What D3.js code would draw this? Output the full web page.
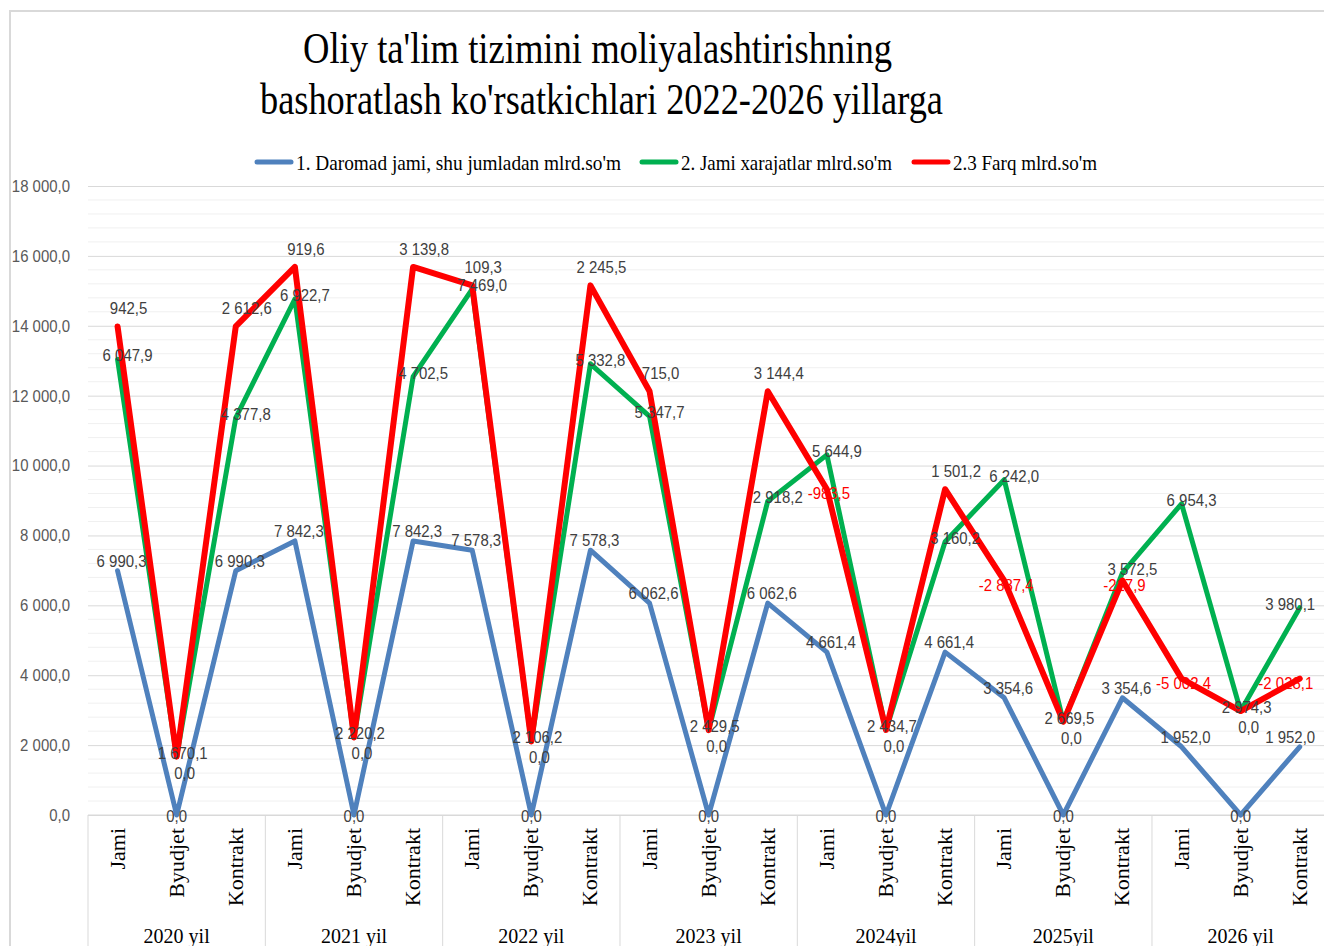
<!DOCTYPE html>
<html>
<head>
<meta charset="utf-8">
<script src="https://cdn.jsdelivr.net/npm/d3@7"></script>
<style>
  body { margin: 0; background: #fff; }
  svg { display: block; }
</style>
</head>
<body>
<svg id="chart" width="1324" height="946"></svg>
<script>

var years = ["2020 yil", "2021 yil", "2022 yil", "2023 yil", "2024yil", "2025yil", "2026 yil"];
var parts = ["Jami", "Byudjet", "Kontrakt"];

// 1. Daromad jami
var daromad = [6990.3, 0.0, 6990.3, 7842.3, 0.0, 7842.3, 7578.3, 0.0, 7578.3,
  6062.6, 0.0, 6062.6, 4661.4, 0.0, 4661.4, 3354.6, 0.0, 3354.6, 1952.0, 0.0, 1952.0];
// 2. Jami xarajatlar
var xarajat = [6047.9, 1670.1, 4377.8, 6922.7, 2220.2, 4702.5, 7469.0, 2106.2, 5332.8,
  5347.7, 2429.5, 2918.2, 5644.9, 2434.7, 3160.2, 6242.0, 2669.5, 3572.5, 6954.3, 2974.3, 3980.1];
// 2.3 Farq
var farq = [942.5, 0.0, 2612.6, 919.6, 0.0, 3139.8, 109.3, 0.0, 2245.5,
  715.0, 0.0, 3144.4, -983.5, 0.0, 1501.2, -2887.4, 0.0, -217.9, -5002.4, 0.0, -2028.1];

var seriesNames = ["1. Daromad jami, shu jumladan  mlrd.so'm", "2. Jami xarajatlar mlrd.so'm", "2.3 Farq mlrd.so'm"];
var yTicks = d3.range(0, 18001, 2000);

InitChart();

function InitChart() {

  var viz = d3.select("#chart"),
    MARGINS = { top: 186, bottom: 815, left: 88 },
    step = 59.11,
    colors = ["#4f81bd", "#00b050", "#ff0000"],
    widths = [5, 5, 6],
    narrow = 0.88,
    labelFont = "'Liberation Sans', Arial, sans-serif",
    serif = "'Liberation Serif', 'Times New Roman', serif";

  var cats = [];
  years.forEach(function(yr, g) {
    parts.forEach(function(p, k) { cats.push({ year: yr, part: p, g: g, i: g * 3 + k }); });
  });

  var rows = cats.map(function(c) {
    return { d: daromad[c.i], x: xarajat[c.i], f: farq[c.i] };
  });
  var stacked = d3.stack().keys(["d", "x", "f"]).offset(d3.stackOffsetNone)(rows);
  var raw = [daromad, xarajat, farq];

  var xRange = d3.scaleBand()
      .domain(cats.map(function(c) { return c.i; }))
      .range([MARGINS.left, MARGINS.left + step * cats.length]),
    xRight = MARGINS.left + step * cats.length,
    yRange = d3.scaleLinear().domain([0, 18000]).range([MARGINS.bottom, MARGINS.top]);

  var fmt = d3.formatLocale({ decimal: ",", thousands: " ", grouping: [3], currency: ["", ""], minus: "-" }).format(",.1f");

  function cx(i) { return xRange(i) + xRange.bandwidth() / 2; }

  // outer chart border
  viz.append("path")
    .attr("d", "M10,946 L10,11 L1330,11")
    .attr("fill", "none").attr("stroke", "#d9d9d9").attr("stroke-width", 2);

  // minor gridlines
  viz.append("g").selectAll("line")
    .data(d3.range(400, 18000, 400).filter(function(v) { return v % 2000 !== 0; }))
    .join("line")
    .attr("x1", MARGINS.left).attr("x2", xRight)
    .attr("y1", function(d) { return yRange(d); }).attr("y2", function(d) { return yRange(d); })
    .attr("stroke", "#f0f0f0").attr("stroke-width", 1);

  // y axis with major gridlines
  var yAxis = d3.axisLeft(yRange)
    .tickValues(yTicks)
    .tickSize(-(xRight - MARGINS.left))
    .tickFormat(fmt);

  var yg = viz.append("g")
    .attr("class", "y axis")
    .attr("transform", "translate(" + MARGINS.left + ",0)")
    .call(yAxis);
  yg.select(".domain").remove();
  yg.selectAll(".tick line").attr("stroke", "#d9d9d9");
  yg.selectAll(".tick text")
    .attr("x", -18 / narrow)
    .attr("transform", "scale(" + narrow + ",1)")
    .attr("fill", "#595959")
    .style("font-family", labelFont)
    .style("font-size", "17px");

  // category axis: baseline, group separators
  viz.append("line")
    .attr("x1", MARGINS.left).attr("x2", xRight)
    .attr("y1", MARGINS.bottom).attr("y2", MARGINS.bottom)
    .attr("stroke", "#d9d9d9");

  viz.append("g").selectAll("line")
    .data(d3.range(0, years.length + 1))
    .join("line")
    .attr("x1", function(g) { return MARGINS.left + g * 3 * step; })
    .attr("x2", function(g) { return MARGINS.left + g * 3 * step; })
    .attr("y1", MARGINS.bottom).attr("y2", 946)
    .attr("stroke", "#d9d9d9");

  viz.append("g").selectAll("text")
    .data(cats)
    .join("text")
    .attr("transform", function(c) { return "translate(" + (cx(c.i) + 7) + ",828) rotate(-90)"; })
    .attr("text-anchor", "end")
    .attr("fill", "#000")
    .style("font-family", serif)
    .style("font-size", "22px")
    .text(function(c) { return c.part; });

  viz.append("g").selectAll("text")
    .data(years)
    .join("text")
    .attr("x", function(yr, g) { return MARGINS.left + (g * 3 + 1.5) * step; })
    .attr("y", 943)
    .attr("text-anchor", "middle")
    .attr("fill", "#000")
    .style("font-family", serif)
    .style("font-size", "20px")
    .text(function(yr) { return yr; });

  // lines
  var line = d3.line()
    .x(function(d, i) { return cx(i); })
    .y(function(d) { return yRange(d[1]); });

  viz.append("g").selectAll("path")
    .data(stacked)
    .join("path")
    .attr("d", line)
    .attr("fill", "none")
    .attr("stroke", function(s, k) { return colors[k]; })
    .attr("stroke-width", function(s, k) { return widths[k]; })
    .attr("stroke-linejoin", "round")
    .attr("stroke-linecap", "round");

  // data labels (Excel-like placement per series)
  function offset(k, v, i) {
    var part = i % 3;
    if (k === 0) return v === 0 ? [0, 1] : [4, -10];
    if (k === 1) return part === 1 ? [6, -4] : [10, -4];
    if (part === 1) return [8, 16];
    return v < 0 ? [2, 4] : [11, -18];
  }

  var labels = [];
  stacked.forEach(function(s, k) {
    s.forEach(function(d, i) {
      var v = raw[k][i], o = offset(k, v, i),
        half = fmt(v).length * 4.4,
        x = Math.min(cx(i) + o[0], 1321 - half);
      labels.push({ x: x, y: yRange(d[1]) + o[1], v: v });
    });
  });

  viz.append("g").selectAll("text")
    .data(labels)
    .join("text")
    .attr("transform", function(d) { return "translate(" + d.x + "," + d.y + ") scale(" + narrow + ",1)"; })
    .attr("dy", "0.35em")
    .attr("text-anchor", "middle")
    .attr("fill", function(d) { return d.v < 0 ? "#ff0000" : "#404040"; })
    .style("font-family", labelFont)
    .style("font-size", "17px")
    .text(function(d) { return fmt(d.v); });

  // title
  var title = viz.append("g")
    .style("font-family", serif)
    .style("font-size", "44px")
    .attr("fill", "#000");
  title.append("text").attr("x", 303).attr("y", 63)
    .attr("textLength", 589).attr("lengthAdjust", "spacingAndGlyphs")
    .text("Oliy ta'lim tizimini moliyalashtirishning");
  title.append("text").attr("x", 260).attr("y", 114)
    .attr("textLength", 683).attr("lengthAdjust", "spacingAndGlyphs")
    .text("bashoratlash ko'rsatkichlari 2022-2026 yillarga");

  // legend
  var legendX = [255, 640, 912],
    legendW = [325, 211, 144];
  var lg = viz.append("g").selectAll("g")
    .data(seriesNames)
    .join("g")
    .attr("transform", function(n, k) { return "translate(" + legendX[k] + ",162)"; });
  lg.append("line")
    .attr("x1", 2).attr("x2", 36).attr("y1", 0).attr("y2", 0)
    .attr("stroke", function(n, k) { return colors[k]; })
    .attr("stroke-width", 5)
    .attr("stroke-linecap", "round");
  lg.append("text")
    .attr("x", 41).attr("y", 8)
    .attr("textLength", function(n, k) { return legendW[k]; })
    .attr("lengthAdjust", "spacingAndGlyphs")
    .style("font-family", serif)
    .style("font-size", "22px")
    .attr("fill", "#000")
    .text(function(n) { return n; });
}

</script>
</body>
</html>
